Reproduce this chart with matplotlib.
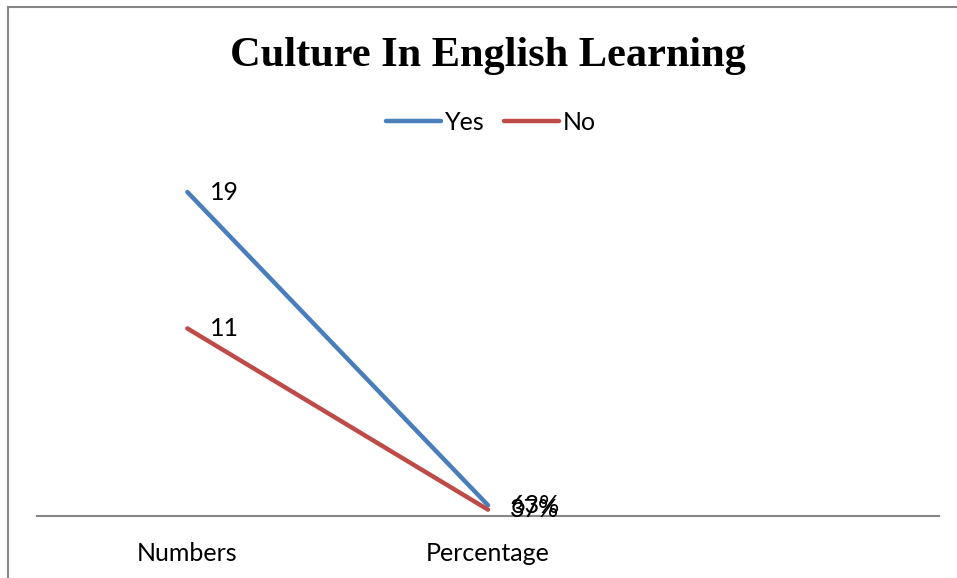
import matplotlib.pyplot as plt
from matplotlib.lines import Line2D

# Survey data
categories = ["Numbers", "Percentage", ""]
yes_values = [19, 0.63]
no_values = [11, 0.37]
yes_labels = ["19", "63%"]
no_labels = ["11", "37%"]

body_font = "Lato"
body_size = 18

fig = plt.figure(figsize=(9.57, 5.78), dpi=100)
ax = fig.add_axes([0.0387, 0.1073, 0.9425, 0.59])

x = list(range(len(yes_values)))
ax.plot(x, yes_values, color="#4A7EBB", lw=3.2, solid_capstyle="round", label="Yes")
ax.plot(x, no_values, color="#BE4B48", lw=3.2, solid_capstyle="round", label="No")

# Value labels sit just right of each point
for xi, v, t in zip(x, yes_values, yes_labels):
    ax.annotate(t, (xi, v), xytext=(16, 0), textcoords="offset points",
                va="center", ha="left", fontsize=body_size, family=body_font)
for xi, v, t in zip(x, no_values, no_labels):
    ax.annotate(t, (xi, v), xytext=(16, 0), textcoords="offset points",
                va="center", ha="left", fontsize=body_size, family=body_font)

ax.set_xlim(-0.5, 2.5)
ax.set_ylim(0, 20)
ax.set_xticks(range(len(categories)))
ax.set_xticklabels(categories, family=body_font, fontsize=body_size)
ax.tick_params(axis="x", length=0, pad=19)
ax.set_yticks([])
for side in ["left", "right", "top"]:
    ax.spines[side].set_visible(False)
ax.spines["bottom"].set_color("#868686")
ax.spines["bottom"].set_linewidth(1.5)

# Title and legend are centred over the plot area
cx = 488 / 957
fig.text(cx, 1 - 56 / 578, "Culture In English Learning", ha="center", va="center",
         family="Liberation Serif", fontweight="bold", fontsize=30.5)

fig.legend(loc="center", bbox_to_anchor=(491 / 957, 1 - 122 / 578), ncol=2, frameon=False,
           prop={"family": body_font, "size": body_size}, handlelength=2.2,
           handletextpad=0.15, columnspacing=0.75)

# Chart area border (left and top edges)
fig.add_artist(Line2D([8 / 957, 8 / 957], [0, 1 - 7 / 578], color="#868686", lw=1.5))
fig.add_artist(Line2D([8 / 957, 1], [1 - 7 / 578, 1 - 7 / 578], color="#868686", lw=1.5))

fig.savefig("out.png", dpi=100, facecolor="white")
